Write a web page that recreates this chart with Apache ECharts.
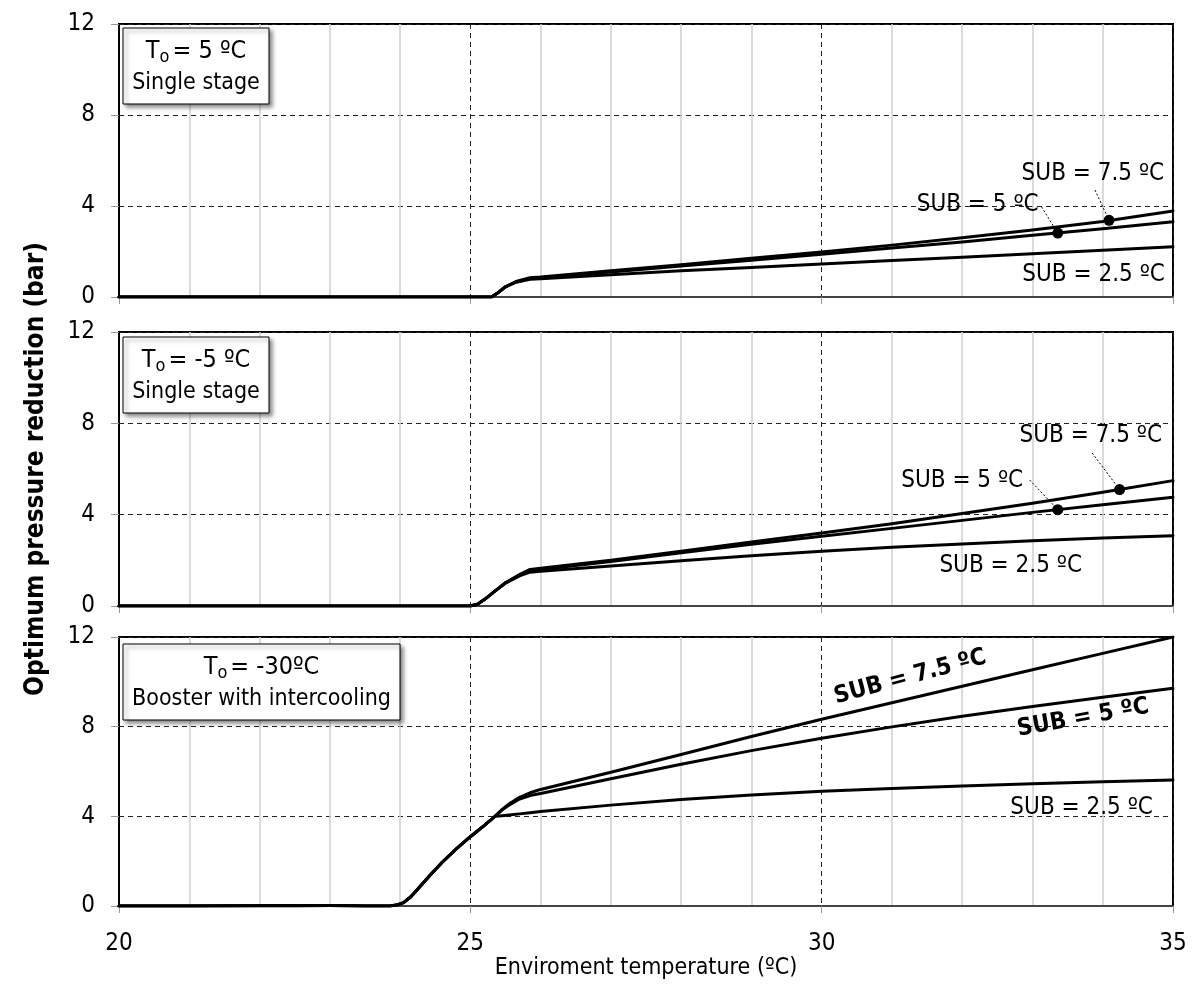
<!DOCTYPE html>
<html>
<head>
<meta charset="utf-8">
<script src="https://cdn.jsdelivr.net/npm/echarts@6/dist/echarts.min.js"></script>
<style>
html,body{margin:0;padding:0;background:#fff;}
#chart{width:1198px;height:990px;}
</style>
</head>
<body>
<div id="chart"></div>
<script>
// ---------- DATA ----------
const X_T5   = [20,21,22,23,24,25,25.3,25.4,25.5,25.65,25.85,26,27,28,29,30,31,32,33,34,35];
const SUB75_T5 = [0,0,0,0,0,0,0,0.2,0.45,0.68,0.85,0.88,1.15,1.42,1.70,1.98,2.28,2.60,2.94,3.32,3.78];
const SUB5_T5  = [0,0,0,0,0,0,0,0.2,0.45,0.66,0.82,0.85,1.1,1.36,1.62,1.88,2.15,2.42,2.71,3.0,3.31];
const SUB25_T5 = [0,0,0,0,0,0,0,0.2,0.45,0.65,0.78,0.8,0.98,1.15,1.3,1.45,1.6,1.75,1.9,2.05,2.21];

const X_TM5   = [20,21,22,23,24,25,25.1,25.2,25.35,25.5,25.7,25.85,26,27,28,29,30,31,32,33,34,35];
const SUB75_TM5 = [0,0,0,0,0,0,0.08,0.28,0.65,1.02,1.38,1.6,1.65,2.0,2.4,2.8,3.2,3.6,4.05,4.5,4.98,5.49];
const SUB5_TM5  = [0,0,0,0,0,0,0.08,0.28,0.65,1.02,1.36,1.55,1.6,1.95,2.33,2.7,3.05,3.4,3.75,4.1,4.43,4.76];
const SUB25_TM5 = [0,0,0,0,0,0,0.08,0.28,0.65,1.0,1.32,1.48,1.52,1.75,1.98,2.2,2.4,2.57,2.72,2.86,2.98,3.08];

const X_TM30   = [20,21,22,22.5,23,23.5,23.85,23.95,24.05,24.15,24.25,24.35,24.45,24.6,24.8,25.0,25.2,25.35,25.45,25.55,25.7,25.85,26,27,28,29,30,31,32,33,34,35];
const SUB75_TM30 = [0,0,0.01,0.01,0.02,0,0,0.04,0.15,0.4,0.75,1.1,1.45,1.95,2.55,3.09,3.6,4.0,4.3,4.55,4.85,5.05,5.2,5.97,6.76,7.56,8.33,9.07,9.8,10.54,11.27,12.0];
const SUB5_TM30  = [0,0,0.01,0.01,0.02,0,0,0.04,0.15,0.4,0.75,1.1,1.45,1.95,2.55,3.09,3.6,4.0,4.28,4.5,4.77,4.93,5.02,5.68,6.32,6.93,7.48,7.99,8.46,8.9,9.31,9.71];
const SUB25_TM30 = [0,0,0.01,0.01,0.02,0,0,0.04,0.15,0.4,0.75,1.1,1.45,1.95,2.55,3.09,3.6,4.0,4.03,4.06,4.11,4.16,4.22,4.5,4.75,4.95,5.12,5.24,5.35,5.45,5.54,5.62];

const X_TICKS = [20, 25, 30, 35];

// marked points (x, y) on SUB = 7.5 and SUB = 5 curves
const DOTS_T5  = [[34.09, 3.37], [33.36, 2.81]];
const DOTS_TM5 = [[34.24, 5.10], [33.36, 4.22]];

// curve labels: text, x, y (data units)
const LABELS_T5   = [['SUB = 7.5 ºC', 33.86, 5.41], ['SUB = 5 ºC', 32.22, 4.04], ['SUB = 2.5 ºC', 33.87, 0.97]];
const LABELS_TM5  = [['SUB = 7.5 ºC', 33.83, 7.45], ['SUB = 5 ºC', 32.0, 5.48], ['SUB = 2.5 ºC', 32.69, 1.75]];
const LABELS_TM30 = [['SUB = 7.5 ºC', 31.26, 10.21], ['SUB = 5 ºC', 33.72, 8.39], ['SUB = 2.5 ºC', 33.70, 4.37]];

// leader lines from label to dot (data units)
const LEADERS_T5  = [[[33.89, 4.70], [34.09, 3.37]], [[33.13, 3.96], [33.36, 2.81]]];
const LEADERS_TM5 = [[[33.85, 6.70], [34.24, 5.10]], [[32.96, 5.52], [33.36, 4.22]]];

const PANEL_TITLES = [['5 ºC', 'Single stage'], ['-5 ºC', 'Single stage'], ['-30ºC', 'Booster with intercooling']];

const X_NAME = 'Enviroment temperature (ºC)';
const Y_NAME = 'Optimum pressure reduction (bar)';

// ---------- CHART ----------
const FONT = '"DejaVu Sans Condensed", "Liberation Sans Narrow", sans-serif';
const chart = echarts.init(document.getElementById('chart'));

const grids = [
  {left: 119, right: 25, top: 24, height: 273},
  {left: 119, right: 25, top: 332, height: 274},
  {left: 119, right: 25, top: 637, height: 269}
];

function zip(xs, ys) { return xs.map((x, i) => [x, ys[i]]); }

const xAxes = grids.map((g, i) => ({
  type: 'value', gridIndex: i, min: 20, max: 35, interval: 5,
  axisLine: {show: true, onZero: false, lineStyle: {color: '#444', width: 2}},
  axisTick: {show: true, length: 7, lineStyle: {color: '#999', width: 1}},
  axisLabel: {show: i === 2, margin: 26, fontFamily: FONT, fontSize: 24, color: '#000'},
  splitLine: {show: true, lineStyle: {color: '#222', type: [5, 4], width: 1}},
  minorTick: {show: false, splitNumber: 5},
  minorSplitLine: {show: true, lineStyle: {color: '#cfcfcf', width: 1.5}},
  name: i === 2 ? X_NAME : '', nameLocation: 'middle', nameGap: 42,
  nameTextStyle: {fontFamily: FONT, fontSize: 23, color: '#000'}
}));

const yAxes = grids.map((g, i) => ({
  type: 'value', gridIndex: i, min: 0, max: 12, interval: 4,
  axisLine: {show: true, lineStyle: {color: '#000', width: 2}},
  axisTick: {show: true, length: 8, lineStyle: {color: '#999', width: 1}},
  axisLabel: {margin: 24, fontFamily: FONT, fontSize: 24, color: '#000'},
  splitLine: {show: true, lineStyle: {color: '#222', type: [5, 4], width: 1}},
  name: i === 1 ? Y_NAME : '', nameLocation: 'middle', nameGap: 70,
  nameTextStyle: {fontFamily: FONT, fontSize: 26, fontWeight: 'bold', color: '#000'}
}));

const panels = [
  {x: X_T5, ys: [SUB25_T5, SUB5_T5, SUB75_T5], dots: DOTS_T5, labels: LABELS_T5, leaders: LEADERS_T5},
  {x: X_TM5, ys: [SUB25_TM5, SUB5_TM5, SUB75_TM5], dots: DOTS_TM5, labels: LABELS_TM5, leaders: LEADERS_TM5},
  {x: X_TM30, ys: [SUB25_TM30, SUB5_TM30, SUB75_TM30], dots: [], labels: LABELS_TM30, leaders: []}
];

const series = [];
panels.forEach((p, i) => {
  p.ys.forEach((ys) => {
    series.push({
      type: 'line', xAxisIndex: i, yAxisIndex: i, data: zip(p.x, ys),
      showSymbol: false, smooth: false,
      lineStyle: {color: '#000', width: 3, join: 'round', cap: 'round'}, z: 5, silent: true
    });
  });
  p.leaders.forEach((ld) => {
    series.push({
      type: 'line', xAxisIndex: i, yAxisIndex: i, data: ld, showSymbol: false,
      lineStyle: {color: '#000', width: 1, type: [2, 2]}, z: 4, silent: true
    });
  });
  if (p.dots.length) {
    series.push({
      type: 'scatter', xAxisIndex: i, yAxisIndex: i, data: p.dots,
      symbolSize: 11, itemStyle: {color: '#000', opacity: 1}, z: 6, silent: true
    });
  }
});

const boxes = [
  {x: 123, y: 28, w: 146, h: 76},
  {x: 123, y: 337, w: 146, h: 76},
  {x: 123, y: 644, w: 277, h: 76}
];
const graphic = [];
boxes.forEach((b, i) => {
  graphic.push({
    type: 'rect', shape: {x: b.x, y: b.y, width: b.w, height: b.h}, z: 100,
    style: {fill: '#fff', stroke: '#000', lineWidth: 1,
            shadowBlur: 4, shadowOffsetX: 3, shadowOffsetY: 3, shadowColor: 'rgba(0,0,0,0.45)'}
  });
  graphic.push({
    type: 'text', x: b.x + b.w / 2, y: b.y + 23, z: 101,
    style: {
      text: '{a|T}{b|o}{a|= ' + PANEL_TITLES[i][0] + '}',
      align: 'center', verticalAlign: 'middle',
      rich: {
        a: {fontFamily: FONT, fontSize: 25, fill: '#000', lineHeight: 30, verticalAlign: 'middle'},
        b: {fontFamily: FONT, fontSize: 18, fill: '#000', lineHeight: 30, verticalAlign: 'bottom', padding: [0, 3, 0, 0]}
      }
    }
  });
  graphic.push({
    type: 'text', x: b.x + b.w / 2, y: b.y + 55, z: 101,
    style: {text: PANEL_TITLES[i][1], align: 'center', verticalAlign: 'middle',
            fontFamily: FONT, fontSize: 23, fill: '#000'}
  });
});

chart.setOption({
  animation: false,
  backgroundColor: '#fff',
  grid: grids.map(g => Object.assign({show: true, borderColor: '#000', borderWidth: 2, backgroundColor: 'transparent'}, g)),
  xAxis: xAxes,
  yAxis: yAxes,
  series: series,
  graphic: graphic
});

// curve labels positioned through the axes' scales
const ROT = [[0, 0, 0], [0, 0, 0], [15, 10, 0]];
const BOLD = [[false, false, false], [false, false, false], [true, true, false]];
panels.forEach((p, i) => {
  p.labels.forEach((l, k) => {
    const pt = chart.convertToPixel({gridIndex: i}, [l[1], l[2]]);
    graphic.push({
      type: 'text', x: pt[0], y: pt[1], z: 50, rotation: ROT[i][k] * Math.PI / 180,
      style: {text: l[0], align: 'center', verticalAlign: 'middle', fill: '#000',
              fontFamily: FONT, fontSize: 24, fontWeight: BOLD[i][k] ? 'bold' : 'normal'}
    });
  });
});
chart.setOption({graphic: graphic});
</script>
</body>
</html>
